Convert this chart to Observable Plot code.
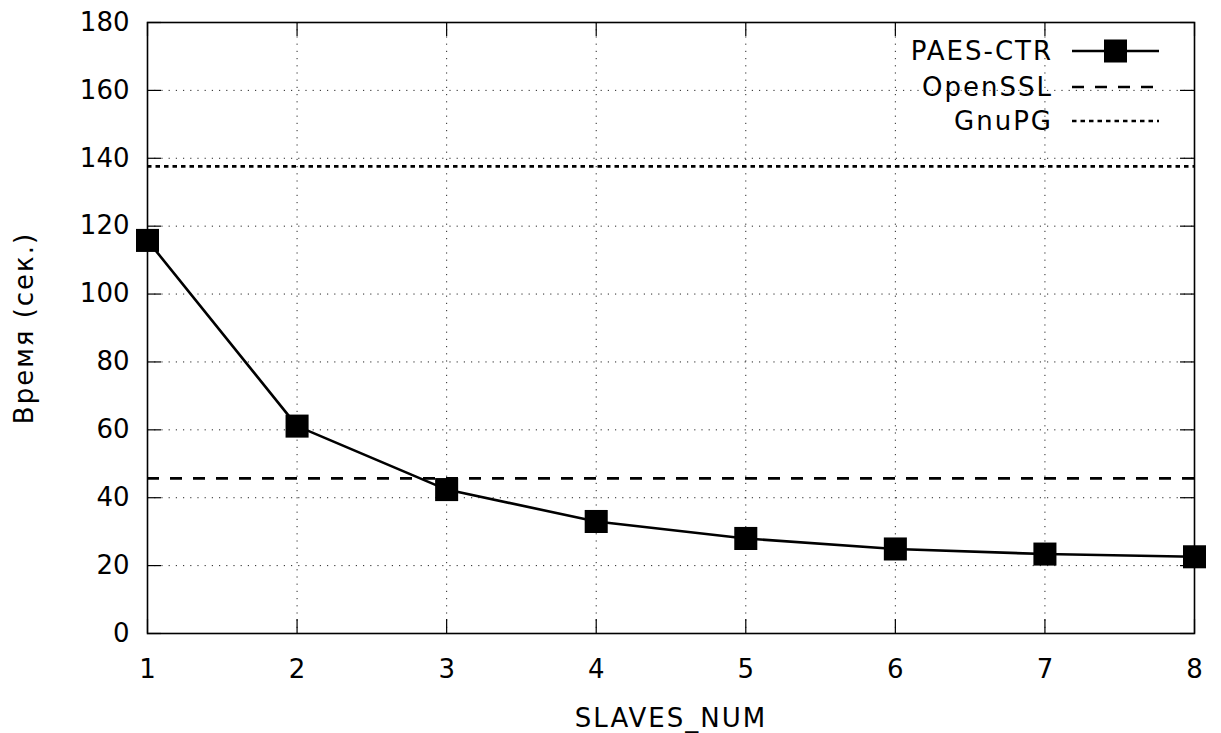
<!DOCTYPE html>
<html>
<head>
<meta charset="utf-8">
<script src="https://cdn.jsdelivr.net/npm/d3@7"></script>
<script src="https://cdn.jsdelivr.net/npm/@observablehq/plot@0.6"></script>
<style>
  html, body { margin: 0; padding: 0; background: #fff; }
  svg { display: block; }
</style>
</head>
<body>
<div id="chart"></div>
<script>
const slaves = [1, 2, 3, 4, 5, 6, 7, 8];
const paesCtr = [115.8, 61.1, 42.4, 33.0, 28.0, 24.9, 23.4, 22.6];
const openssl = 45.7;
const gnupg = 137.6;
const xTicks = [1, 2, 3, 4, 5, 6, 7, 8];
const yTicks = [0, 20, 40, 60, 80, 100, 120, 140, 160, 180];
const seriesNames = ["PAES-CTR", "OpenSSL", "GnuPG"];
const xLabel = "SLAVES_NUM";
const yLabel = "Время (сек.)";

const W = 1221, H = 733;
const mL = 147, mR = 27, mT = 22, mB = 100;
const pw = W - mL - mR, ph = H - mT - mB;
const font = "DejaVu Sans";
const fs = 26;
const ls = "2px";
const tickLen = 14;

const data = slaves.map((s, i) => ({x: s, y: paesCtr[i]}));

const plot = Plot.plot({
  width: W, height: H,
  marginLeft: mL, marginRight: mR, marginTop: mT, marginBottom: mB,
  style: {fontFamily: font, fontSize: fs + "px", background: "#fff", color: "#000"},
  x: {domain: [1, 8], ticks: xTicks, tickFormat: d3.format("d"), label: null},
  y: {domain: [0, 180], ticks: yTicks, label: null},
  marks: [
    Plot.gridX(xTicks, {stroke: "#000", strokeOpacity: 0.85, strokeWidth: 1, strokeDasharray: "1.2,6"}),
    Plot.gridY(yTicks, {stroke: "#000", strokeOpacity: 0.85, strokeWidth: 1, strokeDasharray: "1.2,6"}),
    // inward ticks (mirrored on all sides)
    Plot.ruleY(yTicks, {y: d => d, insetRight: pw - tickLen, stroke: "#000", strokeWidth: 1.2}),
    Plot.ruleY(yTicks, {y: d => d, insetLeft: pw - tickLen, stroke: "#000", strokeWidth: 1.2}),
    Plot.ruleX(xTicks, {x: d => d, insetTop: ph - tickLen, stroke: "#000", strokeWidth: 1.2}),
    Plot.ruleX(xTicks, {x: d => d, insetBottom: ph - tickLen, stroke: "#000", strokeWidth: 1.2}),
    Plot.ruleY([gnupg], {stroke: "#000", strokeWidth: 2.6, strokeDasharray: "4.5,4"}),
    Plot.ruleY([openssl], {stroke: "#000", strokeWidth: 2.6, strokeDasharray: "12,11"}),
    Plot.line(data, {x: "x", y: "y", stroke: "#000", strokeWidth: 2.6}),
    Plot.dot(data, {x: "x", y: "y", symbol: "square", r: 13, fill: "#000", stroke: "none"}),
    Plot.frame({stroke: "#000", strokeWidth: 1.6}),
    Plot.axisX(xTicks, {tickSize: 0, tickPadding: 26, fontSize: fs, fill: "#000", tickFormat: d3.format("d")}),
    Plot.axisY(yTicks, {tickSize: 0, tickPadding: 18, fontSize: fs, fill: "#000"}),
    Plot.text([xLabel], {frameAnchor: "bottom", dy: 85, fontSize: fs, fill: "#000", lineAnchor: "middle"}),
    Plot.text([yLabel], {frameAnchor: "left", dx: -123, rotate: -90, textAnchor: "middle", fontSize: fs, fill: "#000"})
  ]
});

const svg = d3.select(plot);
// widen letter-based labels slightly (reference font is wider than DejaVu)
svg.selectAll("text").filter(function() { return /[A-Za-zА-я]/.test(this.textContent); })
  .attr("letter-spacing", ls);

// legend (inside top-right of the plot frame)
const leg = svg.append("g").attr("font-family", font).attr("font-size", fs).attr("letter-spacing", ls);
const rows = [
  {name: seriesNames[0], y: 51, dash: null, marker: true},
  {name: seriesNames[1], y: 87, dash: "12,11", marker: false},
  {name: seriesNames[2], y: 121, dash: "4.5,4", marker: false}
];
const tx = 1053, l1 = 1072, l2 = 1159;
rows.forEach(r => {
  leg.append("text").attr("x", tx).attr("y", r.y).attr("text-anchor", "end")
    .attr("dominant-baseline", "central").attr("fill", "#000").text(r.name);
  leg.append("line").attr("x1", l1).attr("x2", l2).attr("y1", r.y).attr("y2", r.y)
    .attr("stroke", "#000").attr("stroke-width", 2.6)
    .attr("stroke-dasharray", r.dash);
  if (r.marker) {
    leg.append("rect").attr("x", (l1 + l2) / 2 - 11.5).attr("y", r.y - 11.5)
      .attr("width", 23).attr("height", 23).attr("fill", "#000");
  }
});

document.getElementById("chart").appendChild(plot);
</script>
</body>
</html>
